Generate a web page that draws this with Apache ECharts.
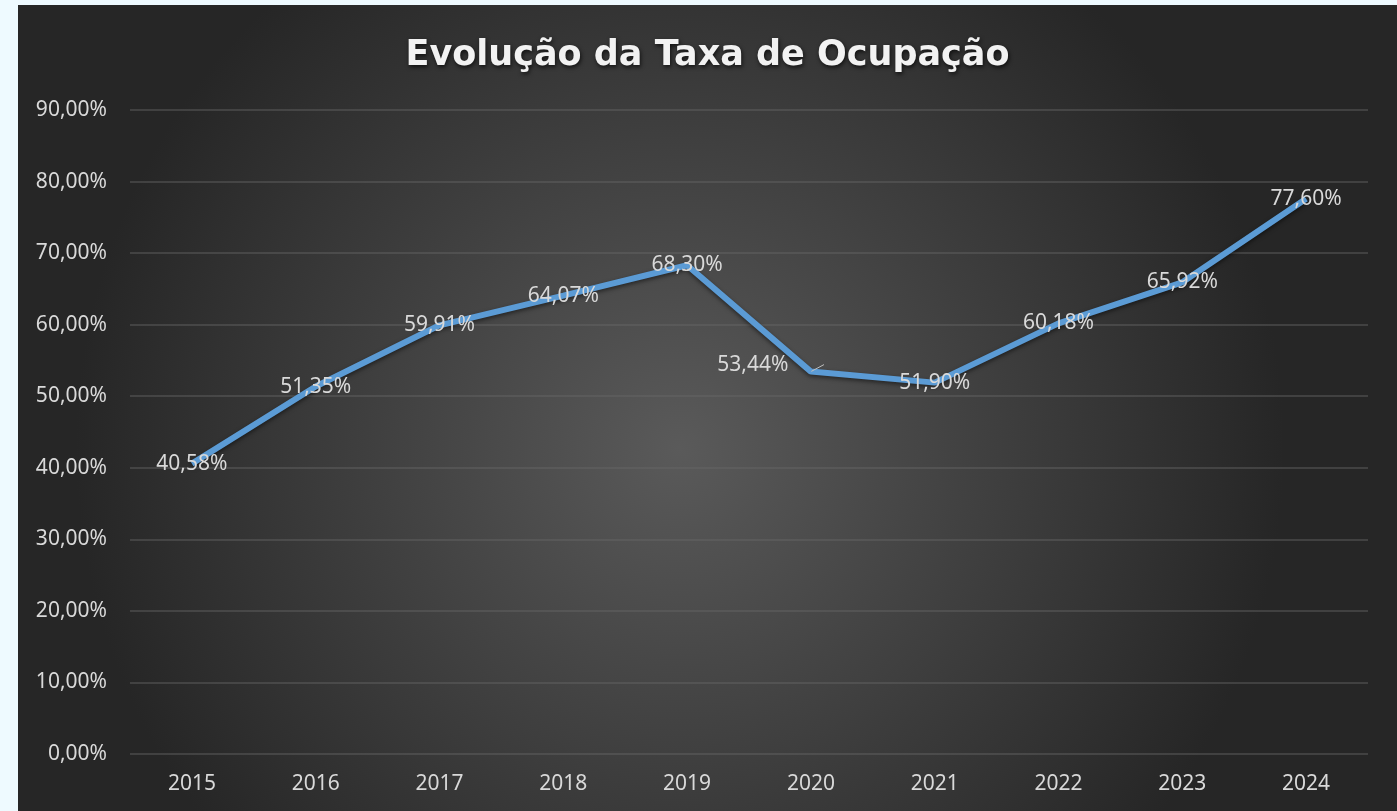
<!DOCTYPE html>
<html>
<head>
<meta charset="utf-8">
<script src="https://cdn.jsdelivr.net/npm/echarts@6/dist/echarts.min.js"></script>
<style>
html,body{margin:0;padding:0;background:#eefaff;width:1397px;height:811px;overflow:hidden;}
#chart{position:absolute;left:18px;top:5px;width:1379px;height:806px;}
</style>
</head>
<body>
<div id="chart"></div>
<script>
const titleText = 'Evolução da Taxa de Ocupação';
const years = ['2015','2016','2017','2018','2019','2020','2021','2022','2023','2024'];
const occupancy = [40.58, 51.35, 59.91, 64.07, 68.30, 53.44, 51.90, 60.18, 65.92, 77.60];

const fmt = v => v.toFixed(2).replace('.', ',') + '%';

const chart = echarts.init(document.getElementById('chart'));
const seriesData = occupancy.map((v, i) => {
  if (years[i] === '2020') {
    return {
      value: v,
      label: {position: 'left', distance: 22, offset: [0, -7]},
      labelLine: {show: true, length2: 0, lineStyle: {color: '#bfbfbf', width: 1}}
    };
  }
  return v;
});

chart.setOption({
  backgroundColor: {
    type: 'radial', x: 0.48, y: 0.55, r: 0.75,
    colorStops: [{offset: 0, color: '#5a5a5a'}, {offset: 1, color: '#262626'}]
  },
  textStyle: {fontFamily: 'Noto Sans'},
  title: {
    text: titleText,
    left: 'center',
    top: 28,
    textStyle: {
      color: '#f2f2f2', fontSize: 35, fontWeight: 'bold', fontFamily: 'DejaVu Sans',
      textShadowColor: 'rgba(0,0,0,0.7)', textShadowBlur: 4, textShadowOffsetX: 1, textShadowOffsetY: 2
    }
  },
  grid: {left: 112, right: 29, top: 105, bottom: 57, containLabel: false},
  xAxis: {
    type: 'category',
    data: years,
    boundaryGap: true,
    axisLine: {show: false},
    axisTick: {show: false},
    axisLabel: {color: '#d9d9d9', fontSize: 21, margin: 20}
  },
  yAxis: {
    type: 'value',
    min: 0, max: 90, interval: 10,
    axisLine: {show: false},
    axisTick: {show: false},
    axisLabel: {color: '#d9d9d9', fontSize: 21, margin: 23, formatter: v => fmt(v)},
    splitLine: {lineStyle: {color: '#6a6a6a', width: 1.5, opacity: 0.55}}
  },
  series: [{
    type: 'line',
    data: seriesData,
    symbol: 'circle',
    symbolSize: 1,
    showSymbol: true,
    itemStyle: {color: 'rgba(91,155,213,0)'},
    lineStyle: {color: '#5b9bd5', width: 6, shadowColor: 'rgba(0,0,0,0.5)', shadowBlur: 4, shadowOffsetY: 2},
    label: {
      show: true, position: 'inside', color: '#d9d9d9', fontSize: 21,
      formatter: p => fmt(p.value)
    },
    emphasis: {disabled: true},
    z: 3
  }]
});
</script>
</body>
</html>
